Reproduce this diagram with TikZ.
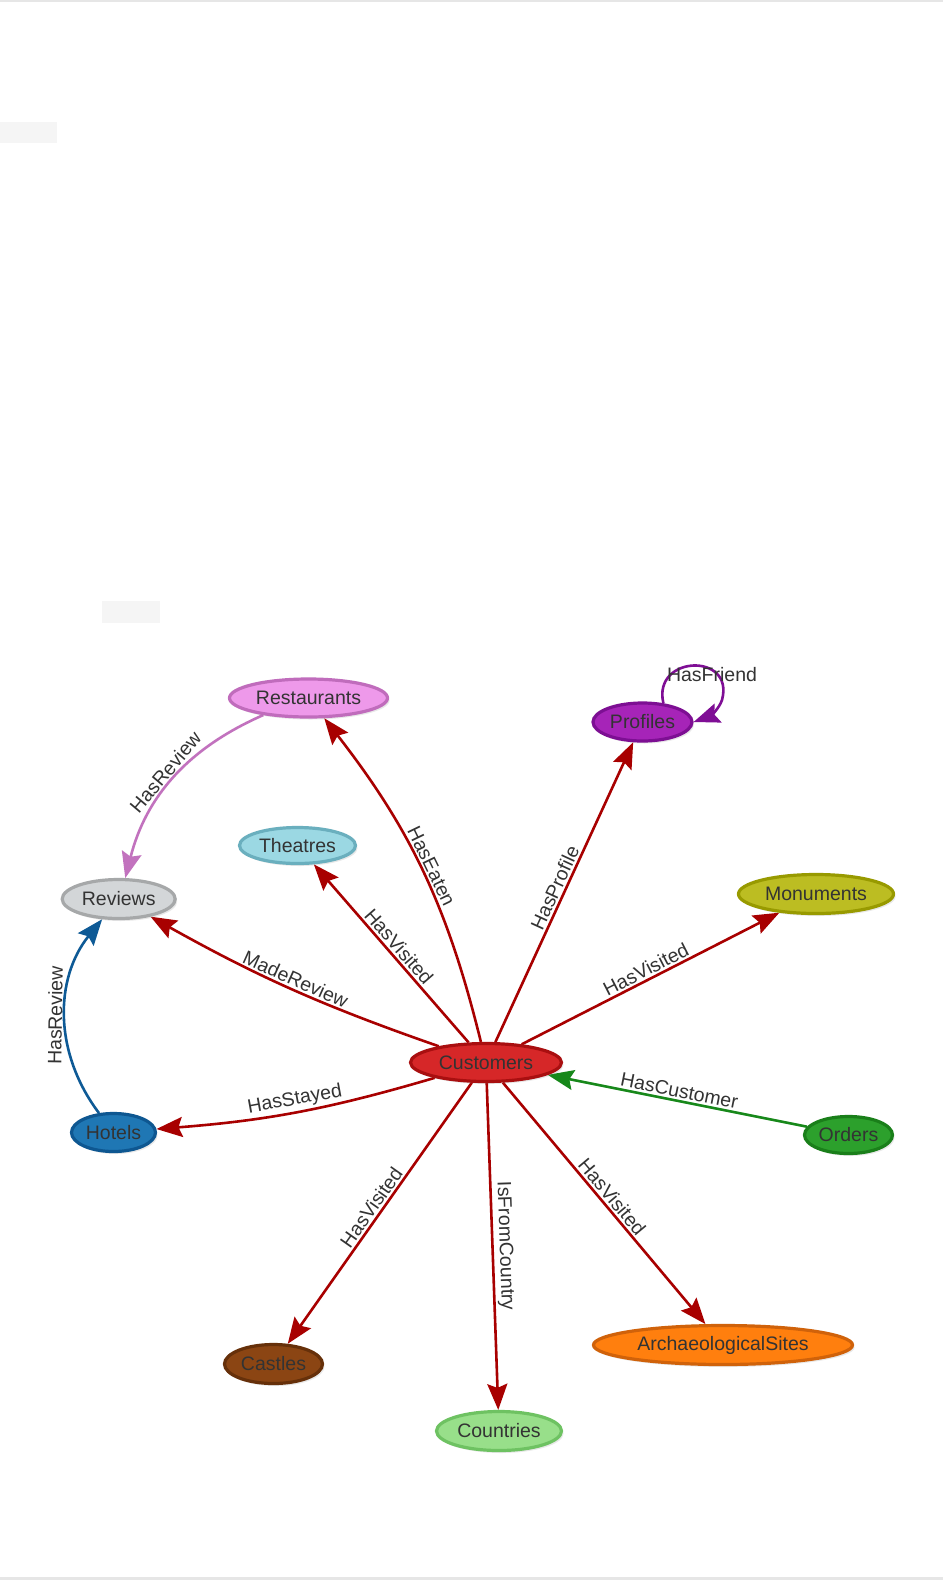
\documentclass[tikz,border=0pt]{standalone}
\usepackage{fontspec}
\setmainfont{Liberation Sans}
\usetikzlibrary{shapes.geometric,arrows.meta,shadows}
\definecolor{txt}{HTML}{333333}
\definecolor{fRest}{HTML}{EE99EA}\definecolor{bRest}{HTML}{C06CBC}
\definecolor{fProf}{HTML}{A624B8}\definecolor{bProf}{HTML}{7D0F93}
\definecolor{fThea}{HTML}{9BD8E3}\definecolor{bThea}{HTML}{6AAFBE}
\definecolor{fRev}{HTML}{D3D6D8}\definecolor{bRev}{HTML}{A6A8A9}
\definecolor{fMon}{HTML}{BCBD22}\definecolor{bMon}{HTML}{989A00}
\definecolor{fCust}{HTML}{D62728}\definecolor{bCust}{HTML}{A90F10}
\definecolor{fHot}{HTML}{1F77B4}\definecolor{bHot}{HTML}{0E5791}
\definecolor{fOrd}{HTML}{2CA02C}\definecolor{bOrd}{HTML}{1A7F1A}
\definecolor{fCast}{HTML}{8B4513}\definecolor{bCast}{HTML}{66300A}
\definecolor{fArch}{HTML}{FF7F0E}\definecolor{bArch}{HTML}{D0620A}
\definecolor{fCoun}{HTML}{98DF8A}\definecolor{bCoun}{HTML}{6EC262}
\definecolor{eRed}{HTML}{A80000}
\definecolor{ePink}{HTML}{C272BE}
\definecolor{eBlue}{HTML}{0E5A96}
\definecolor{eGreen}{HTML}{17881A}
\definecolor{ePurple}{HTML}{7F0E95}
\definecolor{pale}{HTML}{F5F5F5}
\definecolor{rule}{HTML}{E6E6E6}
\pgfdeclarelayer{bg}
\pgfdeclarelayer{paper}
\pgfsetlayers{paper,bg,main}
\begin{document}
\begin{tikzpicture}[x=1pt,y=1pt,
  ent/.style={ellipse, draw, line width=3.2pt, inner sep=0pt, text=txt,
    font=\fontsize{19.5}{23}\selectfont,
    drop shadow={opacity=0.18, shadow xshift=2pt, shadow yshift=-2.5pt}},
  rel/.style={line width=2.6pt, -{Stealth[length=26pt,width=20pt,inset=4pt]}},
  lbl/.style={sloped, above, inner sep=2pt, text=txt, font=\fontsize{19.5}{23}\selectfont},
  flbl/.style={inner sep=0pt, text=txt, font=\fontsize{19.5}{23}\selectfont}
]
\useasboundingbox (0,0) rectangle (943,-1580);
\begin{pgfonlayer}{paper}
\fill[white] (0,0) rectangle (943,-1580);
\fill[rule] (0,0) rectangle (943,-2);
\fill[rule] (0,-1577) rectangle (943,-1580);
\fill[pale] (0,-122) rectangle (57,-143);
\fill[pale] (102,-601) rectangle (160,-623);
\end{pgfonlayer}

\node[ent, fill=fRest, draw=bRest, minimum width=158pt, minimum height=38pt] (rest) at (308.5,-698) {Restaurants};
\node[ent, fill=fProf, draw=bProf, minimum width=99pt, minimum height=38pt] (prof) at (642.5,-722) {Profiles};
\node[ent, fill=fThea, draw=bThea, minimum width=116pt, minimum height=36pt] (thea) at (297.5,-845.5) {Theatres};
\node[ent, fill=fRev, draw=bRev, minimum width=113pt, minimum height=39pt] (rev) at (118.7,-899) {Reviews};
\node[ent, fill=fMon, draw=bMon, minimum width=155pt, minimum height=39pt] (mon) at (816,-894) {Monuments};
\node[ent, fill=fCust, draw=bCust, minimum width=151pt, minimum height=38pt] (cust) at (486,-1062.5) {Customers};
\node[ent, fill=fHot, draw=bHot, minimum width=84pt, minimum height=38pt] (hot) at (113.5,-1132.5) {Hotels};
\node[ent, fill=fOrd, draw=bOrd, minimum width=88pt, minimum height=37pt] (ord) at (848.5,-1135) {Orders};
\node[ent, fill=fCast, draw=bCast, minimum width=98pt, minimum height=39pt] (cast) at (273.5,-1364) {Castles};
\node[ent, fill=fArch, draw=bArch, minimum width=259pt, minimum height=39pt] (arch) at (723,-1345) {ArchaeologicalSites};
\node[ent, fill=fCoun, draw=bCoun, minimum width=125pt, minimum height=39pt] (coun) at (499,-1431) {Countries};

\begin{pgfonlayer}{bg}
\draw[rel, eRed] (cust) to[bend right=12] node[lbl]{HasEaten} (rest);
\draw[rel, eRed] (cust) -- node[lbl]{HasVisited} (thea);
\draw[rel, eRed] (cust) to[bend left=5] node[lbl]{MadeReview} (rev);
\draw[rel, eRed] (cust) -- node[lbl]{HasProfile} (prof);
\draw[rel, eRed] (cust) -- node[lbl]{HasVisited} (mon);
\draw[rel, eGreen] (ord) -- node[lbl]{HasCustomer} (cust);
\draw[rel, eRed] (cust) to[bend left=6] node[lbl]{HasStayed} (hot);
\draw[rel, eRed] (cust) -- node[lbl]{HasVisited} (cast);
\draw[rel, eRed] (cust) -- node[lbl]{IsFromCountry} (coun);
\draw[rel, eRed] (cust) -- node[lbl]{HasVisited} (arch);
\draw[rel, ePink] (rest) to[bend right=26] node[lbl]{HasReview} (rev);
\draw[rel, eBlue] (hot) to[bend left=38] node[lbl]{HasReview} (rev);
\draw[rel, ePurple] (prof.42) .. controls (652,-655) and (735,-652) .. (722,-700)
  .. controls (719,-709) and (710,-716) .. (prof.east)
  node[flbl] at (712,-675) {HasFriend};
\end{pgfonlayer}
\end{tikzpicture}
\end{document}
